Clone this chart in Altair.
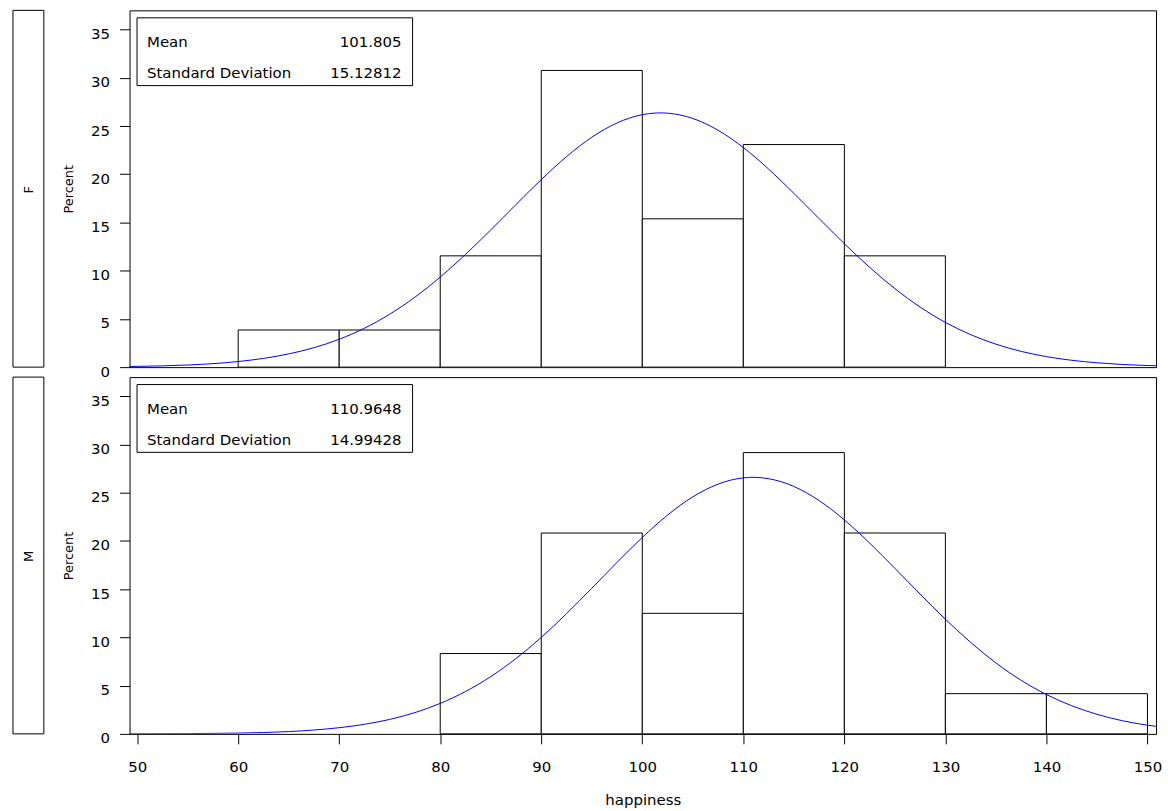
import altair as alt
import pandas as pd

# ---------------- data ----------------
groups = ["F", "M"]
bin_width = 10
bin_starts_F = [60, 70, 80, 90, 100, 110, 120]
percent_F = [3.85, 3.85, 11.54, 30.77, 15.38, 23.08, 11.54]
bin_starts_M = [80, 90, 100, 110, 120, 130, 140]
percent_M = [8.33, 20.83, 12.50, 29.17, 20.83, 4.17, 4.17]

curve_x = [45, 50, 55, 60, 65, 70, 75, 80, 85, 90, 95, 100, 105, 110,
           115, 120, 125, 130, 135, 140, 145, 150, 155]
curve_F = [0.023, 0.075, 0.22, 0.58, 1.37, 2.89, 5.49, 9.34, 14.23, 19.45,
           23.84, 26.18, 25.79, 22.77, 18.03, 12.80, 8.14, 4.64, 2.38, 1.09,
           0.45, 0.165, 0.055]
curve_M = [0.002, 0.007, 0.025, 0.08, 0.24, 0.64, 1.50, 3.16, 5.94, 10.01,
           15.10, 20.37, 24.58, 26.55, 25.66, 22.19, 17.17, 11.89, 7.36, 4.08,
           2.03, 0.90, 0.36]

stat_labels = ["Mean", "Standard Deviation"]
stats_F = ["101.805", "15.12812"]
stats_M = ["110.9648", "14.99428"]

x_ticks = list(range(50, 151, 10))
y_ticks = list(range(0, 36, 5))
x_title = "happiness"
y_title = "Percent"

FONT = "DejaVu Sans"
W, H = 1030, 358
X_DOMAIN = [49.25, 150.85]
Y_DOMAIN = [0, 37]

bars = {"F": (bin_starts_F, percent_F), "M": (bin_starts_M, percent_M)}
curves = {"F": curve_F, "M": curve_M}
stats = {"F": stats_F, "M": stats_M}


def panel(g, show_x):
    starts, pcts = bars[g]
    bar_df = pd.DataFrame({"start": starts,
                           "end": [s + bin_width for s in starts],
                           "pct": pcts})
    curve_df = pd.DataFrame({"x": curve_x, "y": curves[g]})

    if show_x:
        x_axis = alt.Axis(values=x_ticks, tickSize=10, labelFontSize=15,
                          labelFont=FONT, labelColor="black", tickColor="black",
                          labelPadding=16, domain=False, grid=False,
                          title=x_title, titleFont=FONT, titleFontSize=15,
                          titleFontWeight="normal", titleColor="black",
                          titleBaseline="alphabetic", titleY=71)
    else:
        x_axis = None

    y_axis = alt.Axis(values=y_ticks, tickSize=10, labelFontSize=15,
                      labelFont=FONT, labelColor="black", tickColor="black",
                      labelPadding=10, labelOffset=4, domain=False, grid=False,
                      title=y_title, titleFont=FONT, titleFontSize=13,
                      titleFontWeight="normal", titleColor="black",
                      titleX=-61, titleY=H / 2, titleAngle=270,
                      titleAlign="center", titleBaseline="middle")

    xs = alt.Scale(domain=X_DOMAIN, nice=False, zero=False)
    ys = alt.Scale(domain=Y_DOMAIN, nice=False, zero=False)

    hist = alt.Chart(bar_df).mark_rect(fill="white", stroke="black",
                                       strokeWidth=1).encode(
        x=alt.X("start:Q", scale=xs, axis=x_axis),
        x2="end:Q",
        y=alt.Y("pct:Q", scale=ys, axis=y_axis),
        y2=alt.datum(0),
    )
    line = alt.Chart(curve_df).mark_line(color="#0000ff", strokeWidth=1,
                                         interpolate="natural",
                                         clip=True).encode(
        x=alt.X("x:Q", scale=xs),
        y=alt.Y("y:Q", scale=ys),
    )

    one = pd.DataFrame({"g": [g]})
    inset_box = alt.Chart(one).mark_rect(fill="white", stroke="black",
                                         strokeWidth=1).encode(
        x=alt.value(7.5), x2=alt.value(284), y=alt.value(7.5), y2=alt.value(75.5))

    layers = [hist, line, inset_box]
    row_y = [32, 63]
    for i in range(2):
        df = pd.DataFrame({"label": [stat_labels[i]], "value": [stats[g][i]]})
        layers.append(alt.Chart(df).mark_text(align="left", baseline="middle",
                                              fontSize=15, font=FONT,
                                              color="black").encode(
            x=alt.value(17.5), y=alt.value(row_y[i]), text="label:N"))
        layers.append(alt.Chart(df).mark_text(align="right", baseline="middle",
                                              fontSize=15, font=FONT,
                                              color="black").encode(
            x=alt.value(273), y=alt.value(row_y[i]), text="value:N"))

    strip_box = alt.Chart(one).mark_rect(fill="white", stroke="black",
                                         strokeWidth=1).encode(
        x=alt.value(-117), x2=alt.value(-86), y=alt.value(0), y2=alt.value(H))
    strip_text = alt.Chart(one).mark_text(angle=270, align="center",
                                          baseline="middle", fontSize=13,
                                          font=FONT, color="black").encode(
        x=alt.value(-101), y=alt.value(H / 2 + 1), text="g:N")
    layers += [strip_box, strip_text]

    return alt.layer(*layers).properties(width=W, height=H)


chart = alt.vconcat(panel("F", False), panel("M", True), spacing=10,
                    bounds="flush").properties(
    padding={"left": 12, "top": 8, "right": 5, "bottom": 0},
    background="white",
).configure_view(stroke="black", strokeWidth=1)

chart.save("out.html", embed_options={"renderer": "svg", "actions": False})
